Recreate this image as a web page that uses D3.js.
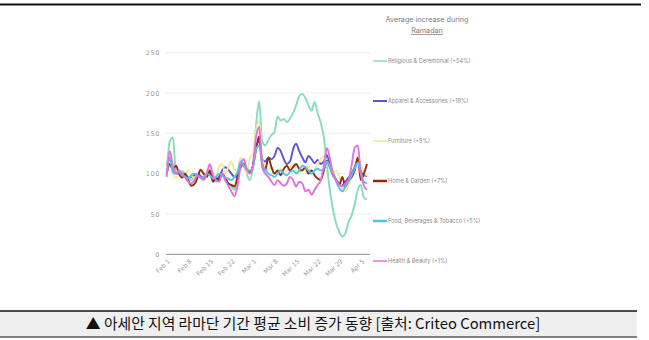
<!DOCTYPE html>
<html>
<head>
<meta charset="utf-8">
<script src="https://cdn.jsdelivr.net/npm/d3@7"></script>
<style>
  html, body { margin: 0; padding: 0; background: #fff; }
  svg { display: block; }
</style>
</head>
<body>
<svg id="chart" width="649" height="340"></svg>
<script>
// Daily index values (100 = baseline), starting Feb 1
const startDate = "2023-02-01";
const seriesNames = [
  "Religious & Ceremonial (+54%)",
  "Apparel & Accessories (+18%)",
  "Furniture (+9%)",
  "Home & Garden (+7%)",
  "Food, Beverages & Tobacco (+5%)",
  "Health & Beauty (+1%)"
];
const seriesColors = ["#86dcbd", "#5b53d6", "#efe99c", "#8c2d0e", "#4fc4ef", "#e172da"];

const religious = [104,140,145,102,98,103,100,95,92,97,100,96,93,98,102,95,90,96,100,92,88,84,80,92,110,118,100,92,110,160,190,140,135,142,148,152,171,166,168,164,168,175,185,196,199,194,185,178,189,175,163,145,110,78,55,38,28,22,26,40,48,62,80,86,70,68];
const apparel = [110,118,105,100,102,100,98,95,96,98,100,97,95,98,100,96,92,96,104,108,105,100,96,98,110,112,105,102,110,135,140,118,115,120,118,122,132,128,118,112,115,130,137,128,120,114,122,118,113,117,112,115,123,110,100,92,88,86,90,95,100,108,116,105,98,97];
const furniture = [105,125,100,95,98,96,100,104,98,95,100,104,98,102,108,100,96,108,112,100,108,115,105,104,120,110,100,120,125,155,165,118,110,104,108,100,103,106,100,104,108,112,104,100,108,104,110,100,104,112,118,122,115,105,100,104,96,80,78,85,95,105,118,110,100,98];
const homeGarden = [100,112,105,110,100,95,100,92,85,87,95,105,100,96,104,90,95,92,100,95,88,86,84,96,108,112,105,102,110,130,146,112,105,120,108,100,104,98,106,110,104,108,112,106,104,108,100,104,98,94,92,104,116,108,98,92,86,96,84,92,96,104,120,92,100,112];
const food = [100,120,102,100,102,98,96,94,98,100,97,95,96,100,98,94,96,100,98,95,94,92,96,102,115,110,105,104,108,130,135,112,105,100,98,96,100,104,100,98,102,104,100,104,110,108,104,100,104,106,104,106,115,108,98,90,82,78,84,90,98,106,114,100,90,88];
const health = [96,128,110,100,104,100,95,90,88,92,98,95,92,100,112,98,92,90,100,92,85,78,72,85,110,118,105,100,110,145,158,108,100,96,90,86,92,88,85,88,96,92,84,90,88,78,80,74,80,86,92,110,132,118,100,92,86,84,88,92,110,132,135,100,85,80];

const yTicks = [0, 50, 100, 150, 200, 250];
const legendTitle = ["Average increase during", "Ramadan"];
const caption = "▲ 아세안 지역 라마단 기간 평균 소비 증가 동향 [출처: Criteo Commerce]";

const allSeries = [religious, apparel, furniture, homeGarden, food, health];

const svg = d3.select("#chart");
const parse = d3.timeParse("%Y-%m-%d");
const t0 = parse(startDate);
const dayAt = i => d3.timeDay.offset(t0, i);

// frame line across the top
svg.append("line").attr("x1", 0).attr("x2", 641).attr("y1", 4.5).attr("y2", 4.5)
  .attr("stroke", "#111").attr("stroke-width", 2);

const x = d3.scaleTime().domain([t0, dayAt(religious.length - 1)]).range([166.7, 367]);
const y = d3.scaleLinear().domain([0, 250]).range([254.3, 52.7]);

// horizontal gridlines
const g = svg.append("g");
g.selectAll("line.grid").data(yTicks.filter(v => v > 0)).join("line")
  .attr("class", "grid")
  .attr("x1", 166).attr("x2", 370)
  .attr("y1", d => y(d)).attr("y2", d => y(d))
  .attr("stroke", "#eeeeee").attr("stroke-width", 1);

// y labels
const yAxis = d3.axisLeft(y).tickValues(yTicks).tickSize(0).tickPadding(0).tickFormat(d3.format("d"));
const ya = svg.append("g").attr("transform", "translate(160,0)").call(yAxis);
ya.select(".domain").remove();
ya.selectAll("text").attr("font-family", "DejaVu Sans, sans-serif").attr("font-size", 6.5)
  .attr("fill", "#9a9a9a").attr("letter-spacing", 0.6);

// baseline
svg.append("line").attr("x1", 166).attr("x2", 370).attr("y1", y(0)).attr("y2", y(0))
  .attr("stroke", "#8a8a8a").attr("stroke-width", 1);

// x axis ticks: weekly
const xTickDates = d3.range(0, 64, 7).map(dayAt);
const xAxis = d3.axisBottom(x).tickValues(xTickDates).tickSize(0).tickPadding(0)
  .tickFormat(d3.timeFormat("%b %-d"));
const xa = svg.append("g").attr("transform", `translate(0,${y(0) + 4})`).call(xAxis);
xa.select(".domain").remove();
xa.selectAll("text")
  .attr("font-family", "DejaVu Sans, sans-serif").attr("font-size", 6.2).attr("fill", "#9a9a9a")
  .attr("text-anchor", "end").attr("dy", "0.3em").attr("dx", "0")
  .attr("transform", "translate(2,2) rotate(-45)");

// series lines
const line = d3.line()
  .x((d, i) => x(dayAt(i)))
  .y(d => y(d))
  .curve(d3.curveMonotoneX);

svg.append("g").selectAll("path.series").data(allSeries).join("path")
  .attr("class", "series")
  .attr("d", line)
  .attr("fill", "none")
  .attr("stroke", (d, i) => seriesColors[i])
  .attr("stroke-width", 1.9)
  .attr("stroke-linejoin", "round");

// legend
const lg = svg.append("g");
lg.selectAll("text.lt").data(legendTitle).join("text")
  .attr("class", "lt")
  .attr("x", 427).attr("y", (d, i) => 22 + i * 11)
  .attr("text-anchor", "middle")
  .attr("font-family", "Inter, sans-serif").attr("font-size", 7.2).attr("fill", "#7a7a7a")
  .attr("text-decoration", (d, i) => i === 1 ? "underline" : null)
  .text(d => d);

const items = lg.selectAll("g.item").data(seriesNames).join("g")
  .attr("class", "item")
  .attr("transform", (d, i) => `translate(373,${61 + i * 40})`);
items.append("line").attr("x1", 0).attr("x2", 14).attr("y1", 0).attr("y2", 0)
  .attr("stroke", (d, i) => seriesColors[i]).attr("stroke-width", (d, i) => [1.5, 2, 1.5, 2.5, 2.5, 1.5][i]);
items.append("text").attr("x", 15).attr("y", 0).attr("dy", "0.35em")
  .attr("font-family", "Inter, sans-serif").attr("font-size", 5.6).attr("fill", "#8a8a8a")
  .text(d => d);

// caption box
svg.append("rect").attr("x", 0).attr("y", 311).attr("width", 637).attr("height", 26)
  .attr("fill", "#efefef");
svg.append("line").attr("x1", 0).attr("x2", 637).attr("y1", 311).attr("y2", 311)
  .attr("stroke", "#111").attr("stroke-width", 1.5);
svg.append("line").attr("x1", 0).attr("x2", 637).attr("y1", 337).attr("y2", 337)
  .attr("stroke", "#111").attr("stroke-width", 1.2);
svg.append("text").attr("x", 313).attr("y", 324).attr("dy", "0.35em")
  .attr("text-anchor", "middle")
  .attr("font-family", "'Noto Sans CJK KR', sans-serif").attr("font-size", 14.8).attr("fill", "#111")
  .text(caption);
</script>
</body>
</html>
